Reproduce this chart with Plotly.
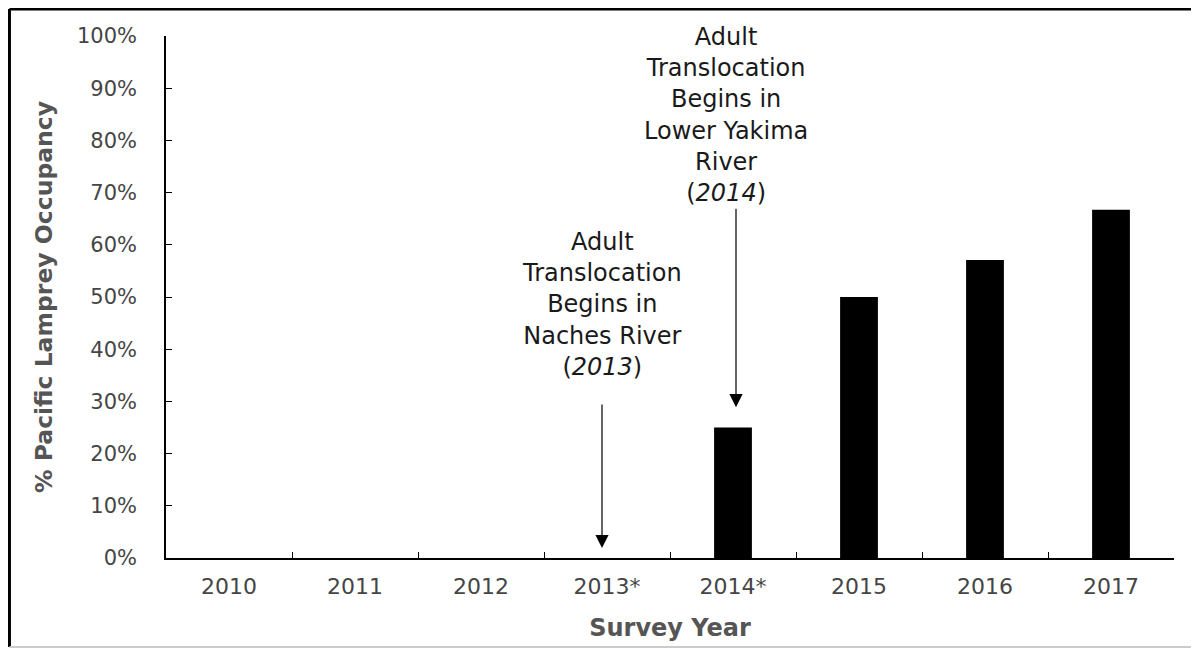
import plotly.graph_objects as go

# survey years and occupancy (fraction of sites)
years = ["2010", "2011", "2012", "2013*", "2014*", "2015", "2016", "2017"]
occupancy = [0, 0, 0, 0, 0.25, 0.50, 0.571, 0.667]

# y-axis ticks
ytick_vals = [0, 0.1, 0.2, 0.3, 0.4, 0.5, 0.6, 0.7, 0.8, 0.9, 1.0]

note_naches = "Adult<br>Translocation<br>Begins in<br>Naches River<br>(<i>2013</i>)"
note_yakima = "Adult<br>Translocation<br>Begins in<br>Lower Yakima<br>River<br>(<i>2014</i>)"

font = "DejaVu Sans, Arial, sans-serif"

fig = go.Figure()
fig.add_trace(go.Bar(x=years, y=occupancy, width=0.3,
                     marker=dict(color="black", line=dict(width=0))))

fig.update_layout(
    width=1199, height=649,
    margin=dict(l=158, r=33, t=28, b=99),
    plot_bgcolor="white", paper_bgcolor="white",
    showlegend=False,
    font=dict(family=font, color="#3a3a3a"),
)

fig.update_xaxes(
    type="category",
    showline=True, linecolor="black", linewidth=1.5,
    ticks="inside", tickson="boundaries", ticklen=6, tickcolor="black",
    tickfont=dict(size=22, color="#454545"),
    ticklabelstandoff=8,
    title=dict(text="<b>Survey Year</b>", font=dict(size=24, color="#555555"), standoff=21),
    showgrid=False,
)
fig.update_yaxes(
    range=[0, 1], tickvals=ytick_vals, tickformat=".0%",
    showline=True, linecolor="black", linewidth=1.5,
    ticks="inside", ticklen=6, tickcolor="black",
    tickfont=dict(size=21, color="#454545"),
    ticklabelstandoff=23,
    title=dict(text="<b>% Pacific Lamprey Occupancy</b>", font=dict(size=23.5, color="#555555"), standoff=18),
    showgrid=False, zeroline=False,
)

# arrows
fig.add_annotation(x="2013*", y=0.019, ax=0, ay=-145, xshift=-5,
                   showarrow=True, arrowhead=2, arrowsize=2.2, arrowwidth=1.2,
                   arrowcolor="black", text="")
fig.add_annotation(x="2014*", y=0.289, ax=0, ay=-200, xshift=3,
                   showarrow=True, arrowhead=2, arrowsize=2.2, arrowwidth=1.2,
                   arrowcolor="black", text="")

# text notes
fig.add_annotation(x="2013*", y=0.485, text=note_naches, showarrow=False,
                   xshift=-5, yanchor="middle",
                   font=dict(size=24, color="#1a1a1a", family=font))
fig.add_annotation(x="2014*", y=0.848, text=note_yakima, showarrow=False,
                   xshift=-7, yanchor="middle",
                   font=dict(size=24, color="#1a1a1a", family=font))

# outer frame of the figure
frame = dict(type="line", xref="paper", yref="paper")
fig.add_shape(**frame, x0=-0.1553, x1=-0.1553, y0=-0.1705, y1=1.0517,
              line=dict(color="black", width=3))
fig.add_shape(**frame, x0=-0.1553, x1=1.0228, y0=1.0517, y1=1.0517,
              line=dict(color="black", width=3))
fig.add_shape(**frame, x0=1.0228, x1=1.0228, y0=-0.1705, y1=1.0517,
              line=dict(color="black", width=2))
fig.add_shape(**frame, x0=-0.1553, x1=1.0228, y0=-0.1705, y1=-0.1705,
              line=dict(color="#cccccc", width=2))

fig.write_html("out.html")
